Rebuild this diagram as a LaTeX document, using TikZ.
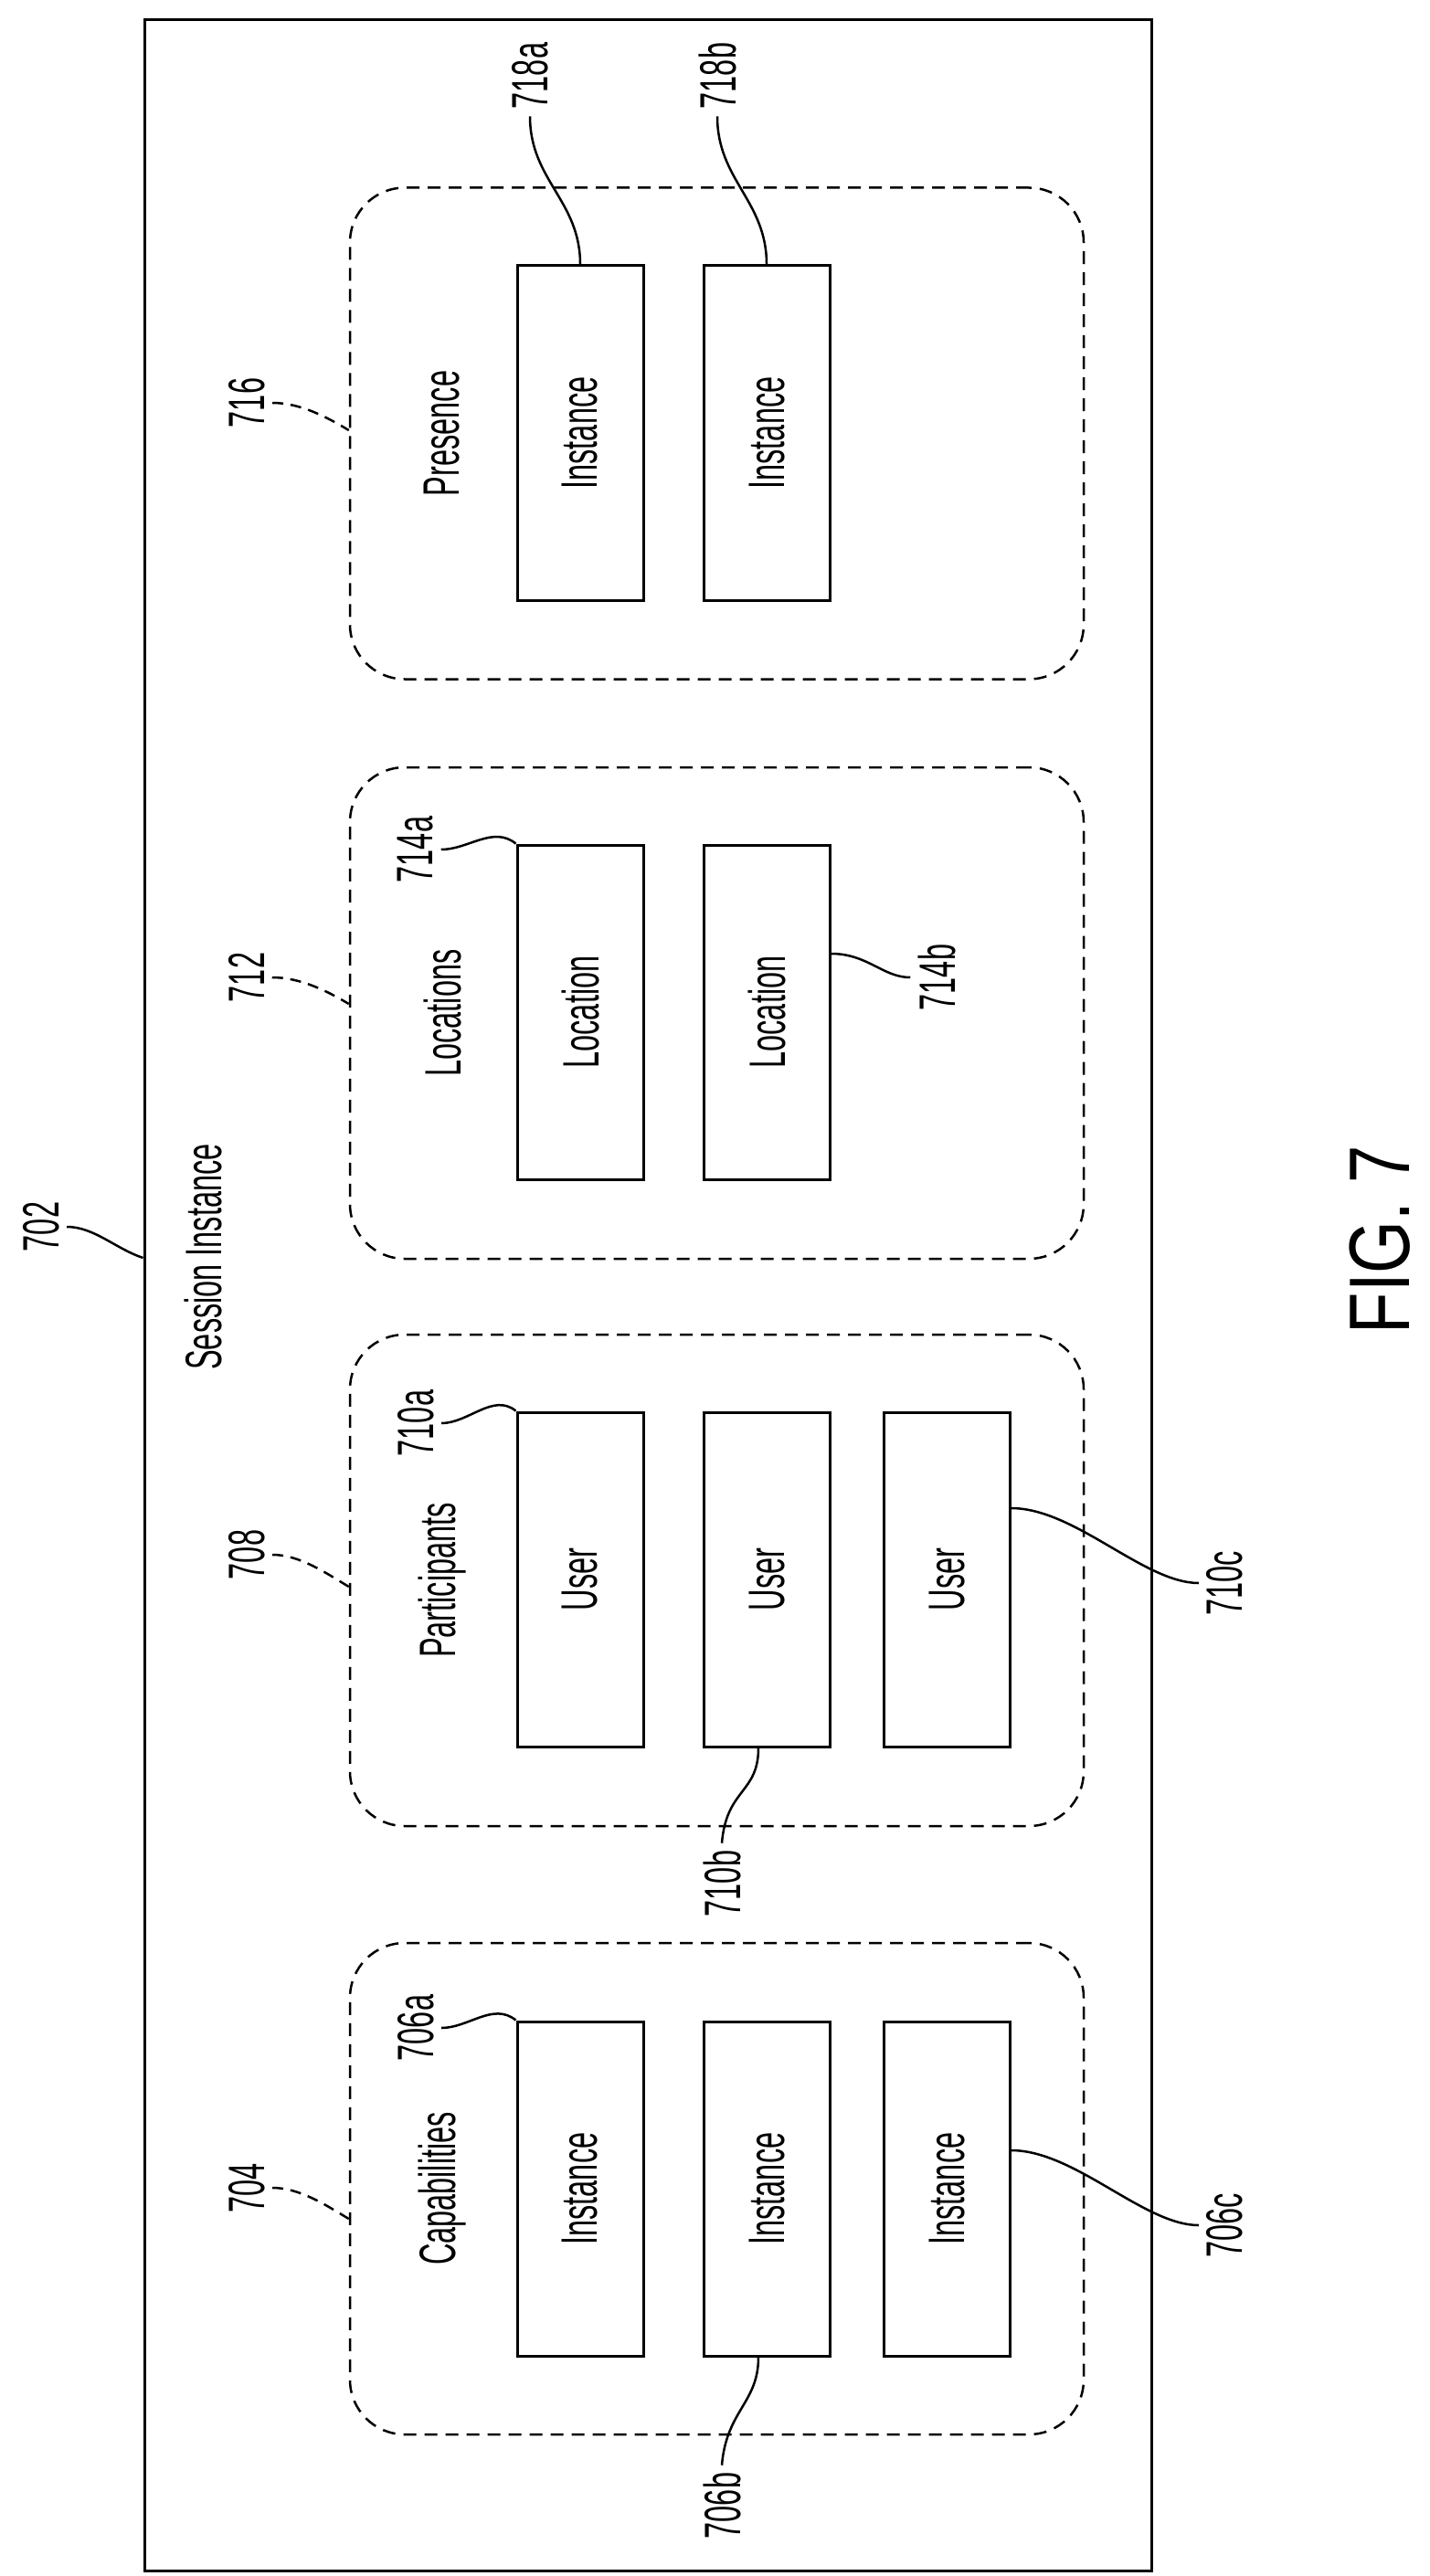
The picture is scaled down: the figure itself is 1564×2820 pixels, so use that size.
\documentclass[tikz,border=0pt]{standalone}
\usepackage{fontspec}
\setmainfont{Liberation Sans}
\usetikzlibrary{calc}
\newcommand{\cn}[1]{\scalebox{0.58}[1]{#1}}
\begin{document}
\begin{tikzpicture}[x=1pt,y=-1pt,
  txt/.style={font=\fontsize{56}{60}\selectfont,inner sep=8pt,rotate=90},
  grp/.style={draw,dashed,dash pattern=on 14pt off 9pt,line width=2.5pt,rounded corners=60pt,minimum width=803pt,minimum height=538pt,inner sep=0pt},
  box/.style={draw,line width=3pt,minimum width=138pt,minimum height=366pt,inner sep=0pt},
  lead/.style={line width=2.5pt},
  dlead/.style={line width=2.5pt,dash pattern=on 12pt off 8pt}]
\useasboundingbox (0,0) rectangle (1564,2820);
\node[draw,line width=3pt,minimum width=1102pt,minimum height=2792pt,inner sep=0pt] (outer) at (709,1418) {};
\node[txt] (si) at (222,1376) {\cn{Session Instance}};
\node[txt] (l702) at (45,1343) {\cn{702}};
\draw[lead] (l702.south) .. controls +(30,0) and +(-30,-10) .. (outer.west |- 0,1377);
\node[font=\fontsize{94}{100}\selectfont,rotate=90] (fig) at (1510,1357) {\scalebox{0.79}[1]{FIG. 7}};
% groups
\foreach \n/\y/\t in {g704/2396/Capabilities, g708/1730/Participants, g712/1109/Locations, g716/474.5/Presence}{
  \node[grp] (\n) at (784.5,\y) {};
  \node[txt] (\n t) at (484,\y) {\cn{\t}};
}
\node[txt] (l704) at (270,2395) {\cn{704}};
\node[txt] (l708) at (270,1702) {\cn{708}};
\node[txt] (l712) at (270,1070) {\cn{712}};
\node[txt] (l716) at (270,441) {\cn{716}};
\draw[dlead] (l704.south) .. controls +(30,0) and +(-25,-15) .. (g704.west |- 0,2429);
\draw[dlead] (l708.south) .. controls +(30,0) and +(-25,-15) .. (g708.west |- 0,1737);
\draw[dlead] (l712.south) .. controls +(30,0) and +(-25,-15) .. (g712.west |- 0,1099);
\draw[dlead] (l716.south) .. controls +(30,0) and +(-25,-15) .. (g716.west |- 0,471);
% boxes
\foreach \g/\y/\t in {a/2396/Instance, b/1729/User}{
  \node[box,label={[txt]center:\cn{\t}}] (\g1) at (635,\y) {};
  \node[box,label={[txt]center:\cn{\t}}] (\g2) at (839,\y) {};
  \node[box,label={[txt]center:\cn{\t}}] (\g3) at (1036,\y) {};
}
\node[box,label={[txt]center:\cn{Location}}] (c1) at (635,1108) {};
\node[box,label={[txt]center:\cn{Location}}] (c2) at (839,1108) {};
\node[box,label={[txt]center:\cn{Instance}}] (d1) at (635,474) {};
\node[box,label={[txt]center:\cn{Instance}}] (d2) at (839,474) {};
% reference labels
\node[txt] (l706a) at (455,2220) {\cn{706a}};
\node[txt] (l706b) at (790,2743) {\cn{706b}};
\node[txt] (l706c) at (1340,2436) {\cn{706c}};
\node[txt] (l710a) at (455,1558) {\cn{710a}};
\node[txt] (l710b) at (790,2062) {\cn{710b}};
\node[txt] (l710c) at (1340,1733) {\cn{710c}};
\node[txt] (l714a) at (455,930) {\cn{714a}};
\node[txt] (l714b) at (1025,1070) {\cn{714b}};
\node[txt] (l718a) at (580,83) {\cn{718a}};
\node[txt] (l718b) at (785,83) {\cn{718b}};
\draw[lead] (l706a.south) .. controls +(30,0) and +(-25,-20) .. (a1.north west);
\draw[lead] ($(a2.south)+(-9,0)$) .. controls +(0,50) and +(5,-60) .. (l706b.east);
\draw[lead] ($(a3.east)+(0,-42)$) .. controls +(70,0) and +(-60,0) .. (l706c.north);
\draw[lead] (l710a.south) .. controls +(30,0) and +(-25,-20) .. (b1.north west);
\draw[lead] ($(b2.south)+(-9,0)$) .. controls +(0,50) and +(5,-60) .. (l710b.east);
\draw[lead] ($(b3.east)+(0,-78)$) .. controls +(70,0) and +(-60,0) .. (l710c.north);
\draw[lead] (l714a.south) .. controls +(30,0) and +(-25,-20) .. (c1.north west);
\draw[lead] ($(c2.east)+(0,-64)$) .. controls +(40,0) and +(-30,0) .. (l714b.north);
\draw[lead] (l718a.west) .. controls +(0,70) and +(0,-70) .. (d1.north);
\draw[lead] (l718b.west) .. controls +(0,70) and +(0,-70) .. (d2.north);
\end{tikzpicture}
\end{document}
